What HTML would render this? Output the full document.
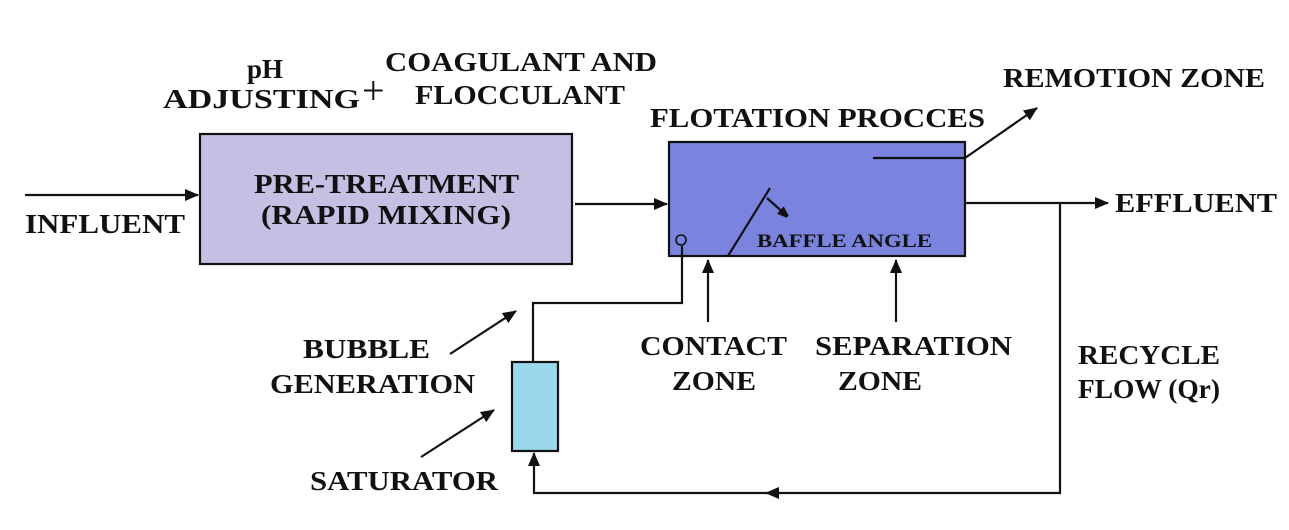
<html><body style="margin:0;background:#fff">
<svg width="1289" height="530" xmlns="http://www.w3.org/2000/svg" style="display:block">
<defs><marker id="a" markerWidth="10" markerHeight="10" refX="9" refY="5" orient="auto" markerUnits="userSpaceOnUse"><path d="M0,0L14,5L0,10z" fill="#111"/></marker>
<marker id="b" markerWidth="14" markerHeight="12" refX="13" refY="6" orient="auto" markerUnits="userSpaceOnUse"><path d="M0,0L14,6L0,12z" fill="#111"/></marker></defs>
<g stroke="#111" stroke-width="2.2" fill="none">
<rect x="200" y="134" width="372" height="130" fill="#c6bfe3"/>
<rect x="669" y="142" width="296" height="114" fill="#7a84de"/>
<rect x="512" y="362" width="46" height="89" fill="#9ad9e9"/>
<line x1="25" y1="195" x2="198" y2="195" marker-end="url(#b)"/>
<line x1="575" y1="204" x2="667" y2="204" marker-end="url(#b)"/>
<polyline points="965,203 1060,203 1060,493 534,493 534,453" marker-end="url(#b)"/>
<line x1="1060" y1="203" x2="1108" y2="203" marker-end="url(#b)"/>
<path d="M780,493l-14,0" marker-end="url(#b)"/>
<polyline points="533,362 533,303 682,303 682,246"/>
<circle cx="681" cy="240" r="5" stroke-width="1.6"/>
<line x1="708" y1="322" x2="708" y2="260" marker-end="url(#b)"/>
<line x1="896" y1="322" x2="896" y2="260" marker-end="url(#b)"/>
<line x1="450" y1="354" x2="516" y2="311" marker-end="url(#b)"/>
<line x1="421" y1="457" x2="494" y2="410" marker-end="url(#b)"/>
<line x1="728" y1="256" x2="770" y2="188"/>
<line x1="767" y1="198" x2="787" y2="216" marker-end="url(#a)"/>
<line x1="873" y1="158" x2="965" y2="158"/>
<line x1="965" y1="158" x2="1037" y2="108" marker-end="url(#b)"/>
</g>
<g font-family="Liberation Serif, serif" font-weight="bold" font-size="27" fill="#111">
<text x="265" y="78" text-anchor="middle">pH</text>
<text x="163" y="108" textLength="197" lengthAdjust="spacingAndGlyphs">ADJUSTING</text>
<text x="362" y="104" font-weight="normal" font-size="40">+</text>
<text x="385" y="71" textLength="272" lengthAdjust="spacingAndGlyphs">COAGULANT AND</text>
<text x="415" y="104" textLength="210" lengthAdjust="spacingAndGlyphs">FLOCCULANT</text>
<text x="650" y="127" textLength="335" lengthAdjust="spacingAndGlyphs">FLOTATION PROCCES</text>
<text x="1003" y="87" textLength="262" lengthAdjust="spacingAndGlyphs">REMOTION ZONE</text>
<text x="254" y="193" textLength="265" lengthAdjust="spacingAndGlyphs">PRE-TREATMENT</text>
<text x="261" y="224" textLength="250" lengthAdjust="spacingAndGlyphs">(RAPID MIXING)</text>
<text x="25" y="233" textLength="160" lengthAdjust="spacingAndGlyphs">INFLUENT</text>
<text x="1115" y="212" textLength="162" lengthAdjust="spacingAndGlyphs">EFFLUENT</text>
<text x="757" y="247" font-size="19" textLength="175" lengthAdjust="spacingAndGlyphs">BAFFLE ANGLE</text>
<text x="303" y="358" textLength="127" lengthAdjust="spacingAndGlyphs">BUBBLE</text>
<text x="270" y="393" textLength="205" lengthAdjust="spacingAndGlyphs">GENERATION</text>
<text x="310" y="490" textLength="188" lengthAdjust="spacingAndGlyphs">SATURATOR</text>
<text x="640" y="355" textLength="147" lengthAdjust="spacingAndGlyphs">CONTACT</text>
<text x="672" y="390" textLength="84" lengthAdjust="spacingAndGlyphs">ZONE</text>
<text x="815" y="355" textLength="197" lengthAdjust="spacingAndGlyphs">SEPARATION</text>
<text x="838" y="390" textLength="84" lengthAdjust="spacingAndGlyphs">ZONE</text>
<text x="1078" y="364" textLength="142" lengthAdjust="spacingAndGlyphs">RECYCLE</text>
<text x="1078" y="398" textLength="142" lengthAdjust="spacingAndGlyphs">FLOW (Qr)</text>
</g>
</svg>
</body></html>
